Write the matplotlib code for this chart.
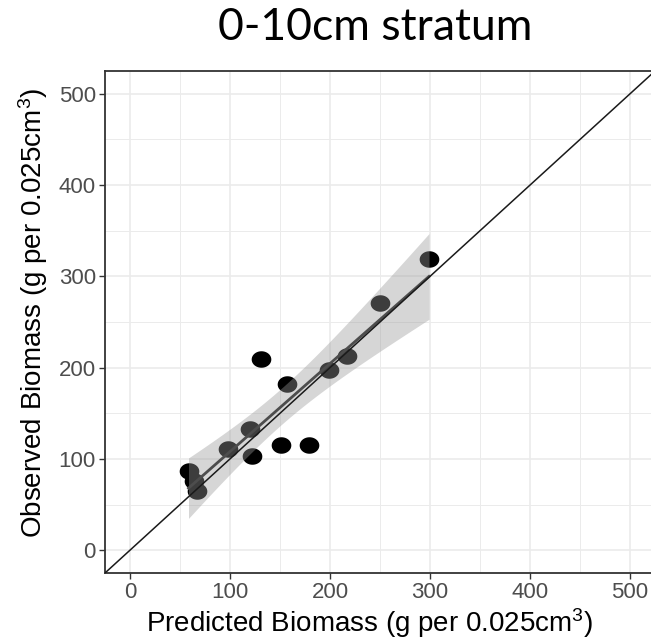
import numpy as np
import matplotlib
matplotlib.use("Agg")
import matplotlib.pyplot as plt
from matplotlib.path import Path

plt.rcParams['font.family'] = ['Liberation Sans', 'DejaVu Sans']
plt.rcParams['mathtext.fontset'] = 'custom'
plt.rcParams['mathtext.rm'] = 'Liberation Sans'
plt.rcParams['mathtext.it'] = 'Liberation Sans'

# values
predicted = [58.5, 64.4, 66.9, 97.9, 120.0, 121.8, 130.6, 151.0, 157.0, 178.5, 199.0, 216.9, 249.6, 299.0]
observed = [86.3, 75.9, 64.8, 111.0, 133.3, 103.7, 209.3, 115.6, 182.2, 114.8, 197.4, 213.0, 271.0, 319.3]
ticks = [0, 100, 200, 300, 400, 500]
title = "0-10cm stratum"
xlabel = r"Predicted Biomass (g per 0.025cm$^3$)"
ylabel = r"Observed Biomass (g per 0.025cm$^3$)"

x = np.array(predicted)
y = np.array(observed)

# lm fit + 95% CI (like geom_smooth(method="lm"))
n = len(x)
slope, intercept = np.polyfit(x, y, 1)
resid = y - (slope * x + intercept)
s = np.sqrt(np.sum(resid**2) / (n - 2))
sxx = np.sum((x - x.mean())**2)
t_crit = 2.1788  # t(0.975, df=12)
xs = np.linspace(x.min(), x.max(), 80)
fit = slope * xs + intercept
se = s * np.sqrt(1 / n + (xs - x.mean())**2 / sxx)

# points are slightly squashed in the reference
th = np.linspace(0, 2 * np.pi, 60)
ellipse = Path(np.column_stack([np.cos(th), 0.84 * np.sin(th)]), closed=True)

fig = plt.figure(figsize=(6.51, 6.40), dpi=100)
ax = fig.add_axes([105 / 651, 67 / 640, 550 / 651, 502 / 640])

ax.scatter(x, y, s=200, marker=ellipse, color="black", linewidths=0, zorder=2)
ax.fill_between(xs, fit - t_crit * se, fit + t_crit * se, color="#999999", alpha=0.4,
                linewidth=0, zorder=3)
ax.plot(xs, fit, color="#4d4d4d", lw=2.0, zorder=4)
ax.plot([-100, 700], [-100, 700], color="#1a1a1a", lw=1.1, zorder=5)

ax.set_xlim(-25, 525)
ax.set_ylim(-25, 525)
ax.set_xticks(ticks)
ax.set_yticks(ticks)
ax.set_xticks([50, 150, 250, 350, 450], minor=True)
ax.set_yticks([50, 150, 250, 350, 450], minor=True)
ax.tick_params(which="minor", length=0)
ax.tick_params(which="major", length=4, width=1, color="#333333", labelcolor="#4d4d4d",
               labelsize=16, pad=2.5)
ax.grid(which="major", color="#ebebeb", lw=1.2)
ax.grid(which="minor", color="#ebebeb", lw=0.7)
ax.set_axisbelow(True)
for sp in ax.spines.values():
    sp.set_color("#333333")
    sp.set_linewidth(1.3)

ax.set_xlabel(xlabel, fontsize=20, labelpad=2)
ax.set_ylabel(ylabel, fontsize=20, labelpad=6.5)
ax.xaxis.label.set_x(0.481)
ax.yaxis.label.set_y(0.518)

fig.text(375 / 651, 1 - 27 / 640, title, fontsize=32, family=["Lato", "DejaVu Sans"],
         ha="center", va="center")

fig.savefig("out.png", dpi=100)
